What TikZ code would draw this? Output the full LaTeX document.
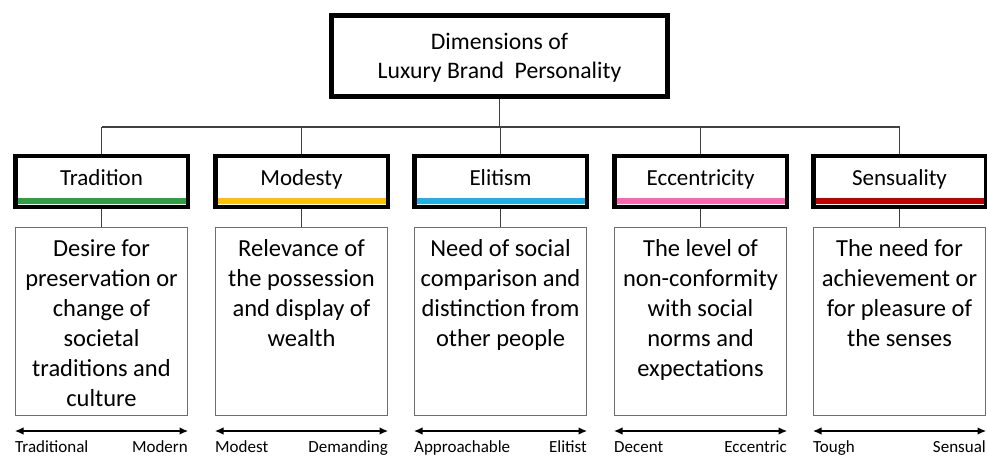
\documentclass[tikz,border=0pt]{standalone}
\usepackage{fontspec}
\setmainfont{Carlito}
\usetikzlibrary{arrows.meta}

\definecolor{dimgreen}{RGB}{46,160,67}
\definecolor{dimyellow}{RGB}{255,192,0}
\definecolor{dimblue}{RGB}{30,176,232}
\definecolor{dimpink}{RGB}{255,102,178}
\definecolor{dimred}{RGB}{192,0,0}
\definecolor{connector}{RGB}{64,64,64}
\definecolor{descframe}{RGB}{110,110,110}

\begin{document}
\begin{tikzpicture}[x=1pt,y=-1pt,
  rootbox/.style={draw=black, line width=5pt, minimum width=336pt, minimum height=81pt,
    inner sep=0pt},
  roottext/.style={inner sep=0pt, align=center, font=\fontsize{23.7}{29}\selectfont},
  hdrbox/.style={draw=black, line width=4.5pt, minimum width=172.5pt, minimum height=50.5pt,
    inner sep=0pt},
  hdrtext/.style={anchor=base, inner sep=0pt, font=\fontsize{23}{28}\selectfont},
  descbox/.style={draw=descframe, line width=1.3pt, minimum width=172pt, minimum height=187.7pt,
    inner sep=0pt},
  desctext/.style={anchor=north, inner sep=0pt, align=center, font=\fontsize{24.5}{30}\selectfont},
  conn/.style={draw=connector, line width=1.1pt},
  scale arrow/.style={draw=black, line width=1.2pt, {Latex[length=8.5pt,width=7.5pt]}-{Latex[length=8.5pt,width=7.5pt]}},
  scalelabel/.style={inner sep=0pt, font=\fontsize{17}{20}\selectfont}
]
\useasboundingbox (0,0) rectangle (987,457);

% title box
\node[rootbox] (root) at (499.5,56) {};
\node[roottext] (roottitle) at (499.5,58) {Dimensions of\\Luxury Brand\ \ Personality};
\coordinate (bus) at (0,127);

% one column per dimension: header, colour bar, description, scale
\foreach \n/\cx/\hd/\col/\desc/\lo/\hi in {
  1/101.5/Tradition/dimgreen/{Desire for\\preservation or\\change of\\societal\\traditions and\\culture}/Traditional/Modern,
  2/301.5/Modesty/dimyellow/{Relevance of\\the possession\\and display of\\wealth}/Modest/Demanding,
  3/500.5/Elitism/dimblue/{Need of social\\comparison and\\distinction from\\other people}/Approachable/Elitist,
  4/700.5/Eccentricity/dimpink/{The level of\\non-conformity\\with social\\norms and\\expectations}/Decent/Eccentric,
  5/899.5/Sensuality/dimred/{The need for\\achievement or\\for pleasure of\\the senses}/Tough/Sensual}
{
  \fill[\col] (\cx-84,198) rectangle (\cx+84,204);
  \node[hdrbox] (h\n) at (\cx,181.5) {};
  \node[hdrtext] (ht\n) at (\cx,185.5) {\hd};
  \node[descbox] (d\n) at (\cx,321.5) {};
  \node[desctext] (dt\n) at (\cx,239) {\desc};
  \draw[conn] (h\n.south) -- (d\n.north);
  \draw[conn] (h\n.north |- bus) -- (h\n.north);
  \coordinate (sl\n) at (\cx-86.5,431);
  \coordinate (sr\n) at (\cx+86.5,431);
  \draw[scale arrow] (sl\n) -- (sr\n);
  \node[scalelabel, anchor=base west] (lo\n) at (\cx-86.5,452.5) {\lo};
  \node[scalelabel, anchor=base east] (hi\n) at (\cx+86.5,452.5) {\hi};
}

% connectors from the title to the dimension headers
\draw[conn] (root.south) -- (root.south |- bus);
\draw[conn] (h1.north |- bus) -- (h5.north |- bus);
\end{tikzpicture}
\end{document}
